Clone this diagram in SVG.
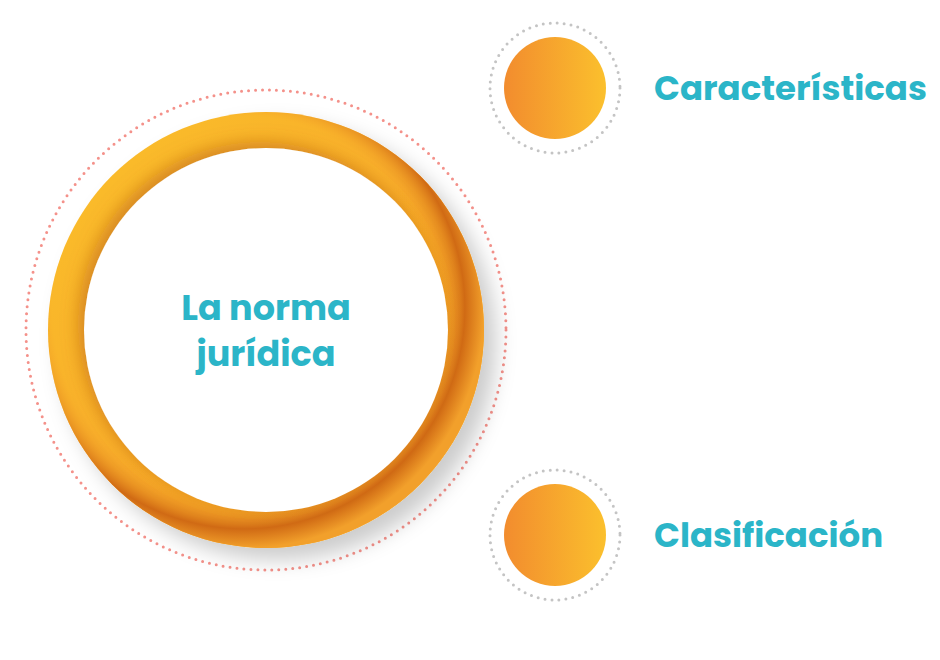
<svg xmlns="http://www.w3.org/2000/svg" width="940" height="660" viewBox="0 0 940 660">
<defs>
<linearGradient id="ring" x1="0" y1="0" x2="1" y2="1">
<stop offset="0" stop-color="#FBC02D"/><stop offset="0.6" stop-color="#F7A928"/><stop offset="1" stop-color="#F6B22A"/>
</linearGradient>
<radialGradient id="inner" cx="0.45" cy="0.45" r="0.55">
<stop offset="0.8" stop-color="#F5A12A" stop-opacity="0"/><stop offset="0.92" stop-color="#D06A14"/><stop offset="1" stop-color="#F2A02B"/>
</radialGradient>
<linearGradient id="dot" x1="0" y1="0" x2="1" y2="0">
<stop offset="0" stop-color="#F28C2E"/><stop offset="1" stop-color="#FBC02D"/>
</linearGradient>
<filter id="sh" x="-20%" y="-20%" width="140%" height="140%"><feDropShadow dx="12" dy="12" stdDeviation="10" flood-color="#000" flood-opacity="0.2"/></filter>
<filter id="sh2" x="-20%" y="-20%" width="140%" height="140%"><feDropShadow dx="-6" dy="-6" stdDeviation="8" flood-color="#B55A0A" flood-opacity="0.5"/></filter>
</defs>
<style>
.t{font-family:"Poppins","Lato","Open Sans",sans-serif;font-weight:bold;fill:#2BB5C8}
.dots{fill:none;stroke-width:3;stroke-linecap:round;stroke-dasharray:0 7}
</style>
<g id="main">
<circle cx="266" cy="330" r="240" class="dots" stroke="#F4918A"/>
<circle cx="266" cy="330" r="218" fill="url(#ring)" filter="url(#sh)"/>
<circle cx="266" cy="330" r="218" fill="url(#inner)"/>
<circle cx="266" cy="330" r="182" fill="#fff" filter="url(#sh2)"/>
<text class="t" x="266" y="320" font-size="35" text-anchor="middle">La norma</text>
<text class="t" x="266" y="366" font-size="35" text-anchor="middle">jurídica</text>
</g>
<g id="n1">
<circle cx="555" cy="88" r="65" class="dots" stroke="#C4C4C4"/>
<circle cx="555" cy="88" r="51" fill="url(#dot)"/>
<text class="t" x="654" y="100" font-size="34">Características</text>
</g>
<g id="n2">
<circle cx="555" cy="535" r="65" class="dots" stroke="#C4C4C4"/>
<circle cx="555" cy="535" r="51" fill="url(#dot)"/>
<text class="t" x="654" y="547" font-size="34">Clasificación</text>
</g>
<g id="connectors"/>
</svg>
